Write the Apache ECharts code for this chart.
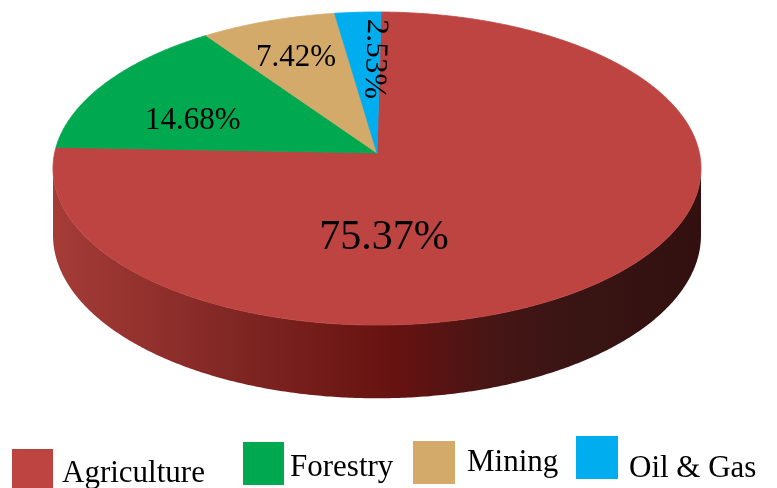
<!DOCTYPE html>
<html><head><meta charset="utf-8">
<script src="https://cdn.jsdelivr.net/npm/echarts@6/dist/echarts.min.js"></script>
<style>html,body{margin:0;padding:0;background:#fff}#c{width:777px;height:488px}</style>
</head><body><div id="c"></div>
<script>
// ---- data ----
const categories = ['Agriculture', 'Forestry', 'Mining', 'Oil & Gas'];
const values = [75.37, 14.68, 7.42, 2.53];
const colors = ['#BD4441', '#00A84F', '#D3AA6A', '#00AEEF'];

// ---- view / layout (not data) ----
const VIEW = {cx: 377, cy: 153, rx: 322.4, ry: 155, persp: 0.0991, depth: 66, startAngle: 0.8};
const SIDE_STOPS = [
  {offset: 0, color: '#A53C38'}, {offset: 0.3, color: '#7E2522'},
  {offset: 0.53, color: '#661210'}, {offset: 0.66, color: '#4A1515'},
  {offset: 0.78, color: '#3A1514'}, {offset: 1, color: '#321010'}
];
const LABELS = [
  {angle: 177.7, r: 0.52, size: 42, rot: 0},
  {angle: -70.1, r: 0.62, size: 31, rot: 0},
  {angle: -22.3, r: 0.705, size: 31, rot: 0},
  {angle: -0.6, r: 0.645, size: 31, rot: -92}
];
// legend boxes: [x, y, w, h], text anchor [x, vertical middle]
const LEGEND_BOX = [[12, 449, 41, 42], [243, 442, 41, 43], [413, 441, 42, 43], [576, 436, 42, 43]];
const LEGEND_TXT = [[62, 474], [290, 468], [467, 463], [629, 469]];
const FONT = 'Liberation Serif';

const total = values.reduce((a, b) => a + b, 0);
function proj(deg, r, h) {
  const t = deg * Math.PI / 180;
  const u = r * Math.sin(t), v = r * Math.cos(t);
  const s = 1 / (1 + VIEW.persp * v);
  return [VIEW.cx + VIEW.rx * u * s, VIEW.cy - VIEW.ry * v * s + (h || 0) * s];
}
const SIL = Math.acos(-VIEW.persp) * 180 / Math.PI;
const sideX0 = proj(360 - SIL, 1, 0)[0], sideX1 = proj(SIL, 1, 0)[0];

function arc(a0, a1, h) {
  const pts = [];
  const n = Math.max(2, Math.ceil(Math.abs(a1 - a0) / 0.5));
  for (let k = 0; k <= n; k++) pts.push(proj(a0 + (a1 - a0) * k / n, 1, h));
  return pts;
}

function makeRender(i) {
  return function (params, api) {
    const val = api.value(0), before = api.value(1);
    const a0 = VIEW.startAngle + 360 * before / total;
    const a1 = a0 + 360 * val / total;
    const children = [];
    for (const k of [-360, 0, 360]) {
      const lo = Math.max(a0, SIL + k), hi = Math.min(a1, 360 - SIL + k);
      if (hi > lo) {
        const top = arc(lo, hi, 0), bot = arc(hi, lo, VIEW.depth);
        children.push({
          type: 'polygon', z2: 1,
          shape: {points: top.concat(bot)},
          style: {fill: {type: 'linear', x: sideX0, y: 0, x2: sideX1, y2: 0, global: true, colorStops: SIDE_STOPS}}
        });
      }
    }
    const face = [proj(0, 0, 0)].concat(arc(a0, a1, 0));
    children.push({
      type: 'polygon', z2: 10,
      shape: {points: face},
      style: {fill: colors[i], stroke: colors[i], lineWidth: 0.8, lineJoin: 'round'}
    });
    const L = LABELS[i];
    const p = proj(L.angle, L.r, 0);
    children.push({
      type: 'text', z2: 20, x: p[0], y: p[1], rotation: L.rot * Math.PI / 180,
      style: {text: val.toFixed(2) + '%', fontFamily: FONT, fontSize: L.size, fill: '#000',
              align: 'center', verticalAlign: 'middle'}
    });
    return {type: 'group', children};
  };
}

let cum = 0;
const series = categories.map((name, i) => {
  const s = {
    type: 'custom', name, coordinateSystem: 'none', silent: true,
    itemStyle: {color: colors[i]},
    renderItem: makeRender(i),
    data: [[values[i], cum]]
  };
  cum += values[i];
  return s;
});

const graphic = [];
categories.forEach((name, i) => {
  const b = LEGEND_BOX[i], t = LEGEND_TXT[i];
  graphic.push({type: 'rect', left: b[0], top: b[1], shape: {width: b[2], height: b[3]},
                style: {fill: colors[i]}, silent: true});
  graphic.push({type: 'text', x: t[0], y: t[1], silent: true,
                style: {text: name, fontFamily: FONT, fontSize: 31, fill: '#000',
                        align: 'left', verticalAlign: 'middle'}});
});

const chart = echarts.init(document.getElementById('c'), null, {renderer: 'canvas'});
chart.setOption({animation: false, backgroundColor: '#fff', graphic, series});
</script>
</body></html>
